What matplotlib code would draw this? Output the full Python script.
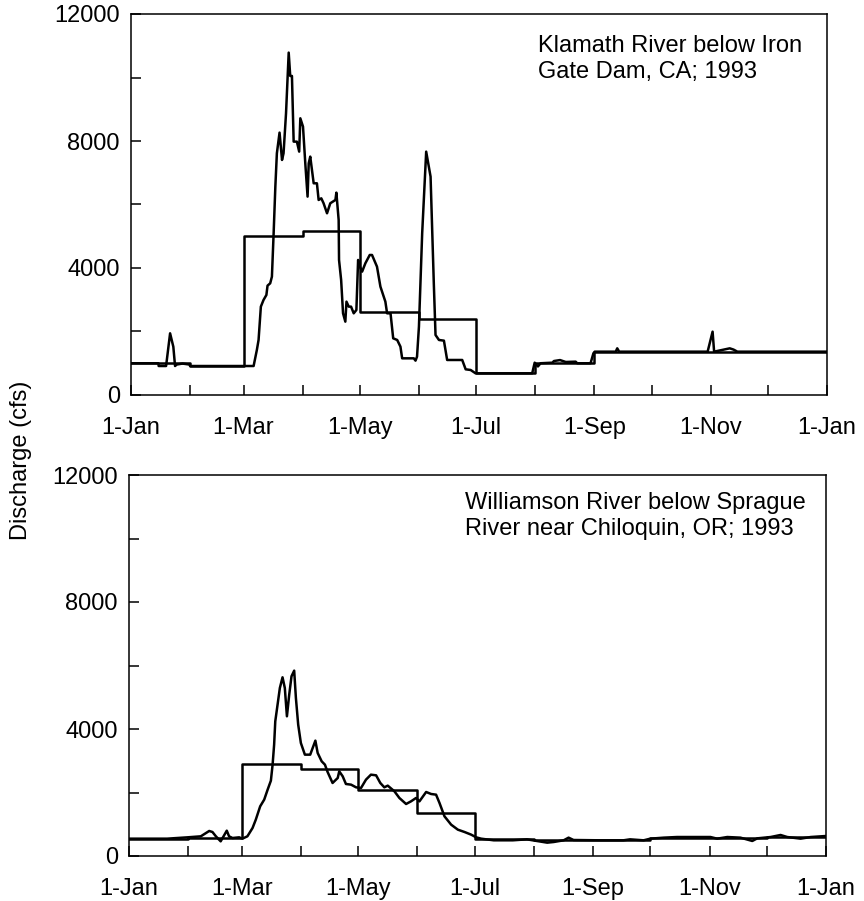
import matplotlib
matplotlib.use('Agg')
import matplotlib.pyplot as plt

plt.rcParams['font.family'] = ['Liberation Sans', 'DejaVu Sans']

# day of year (0 = 1-Jan) for each month start, last entry = next 1-Jan
month_starts = [0, 31, 59, 90, 120, 151, 181, 212, 243, 273, 304, 334, 365]
label_days = [0, 59, 120, 181, 243, 304, 365]
label_text = ['1-Jan', '1-Mar', '1-May', '1-Jul', '1-Sep', '1-Nov', '1-Jan']
y_major = [0, 4000, 8000, 12000]
y_minor = [2000, 6000, 10000]

# Klamath River below Iron Gate Dam - daily flow
klamath_day = [0, 14.4, 14.5, 18.4, 20.5, 22.2, 23.1, 24, 27, 30.6, 31, 64.3,
               66, 66.9, 68.1, 69.5, 71, 71.6, 73, 73.9, 74.8, 75.7, 76.5, 77.9,
               79.2, 80, 81.3, 82.7, 83.5, 84.4, 85.3, 87, 88.2, 88.8, 90.2,
               91.4, 92.6, 93.2, 94, 95.8, 97.5, 98.4, 99.8, 101, 102.8, 104.5,
               107.2, 107.7, 108.9, 109.1, 110.2, 111.2, 112.4, 113, 114.2,
               115.4, 116.8, 118.2, 119.1, 120, 121.2, 122.9, 125.2, 126.4, 129,
               130.8, 133.4, 134.3, 136.1, 137.5, 139.6, 141.3, 142.2, 148.3,
               149.2, 150, 151, 152.7, 154.8, 157.1, 158.8, 159.7, 161.5, 164.1,
               165.8, 173.7, 175.5, 178.1, 180.7, 210.4, 211.7, 213.4, 214.8,
               221, 221.8, 225, 228, 233.2, 234, 241, 242.5, 243.2, 254.2, 255,
               256, 302.4, 305, 305.8, 314, 316, 318, 365]
klamath_cfs = [1000, 1000, 913, 913, 1943, 1520, 913, 960, 990, 960, 913, 913,
               1418, 1733, 2783, 2993, 3150, 3444, 3518, 3728, 5093, 6563, 7613,
               8264, 7403, 7613, 8873, 10784, 10049, 10049, 7980, 7980, 7665,
               8715, 8453, 7298, 6248, 7298, 7508, 6668, 6668, 6143, 6195, 6038,
               5723, 6038, 6143, 6374, 5513, 4253, 3623, 2573, 2310, 2940, 2783,
               2783, 2573, 2678, 4253, 4043, 3885, 4148, 4410, 4410, 4043, 3413,
               2940, 2573, 2573, 1785, 1733, 1523, 1155, 1155, 1082, 1208, 2153,
               5093, 7665, 6878, 3518, 1890, 1733, 1712, 1103, 1103, 809, 788,
               683, 683, 1018, 900, 1000, 1018, 1070, 1100, 1040, 1050, 1000,
               1000, 1313, 1365, 1365, 1470, 1365, 1365, 1995, 1365, 1470, 1430,
               1365, 1365]
klamath_monthly = [1000, 913, 5020, 5180, 2625, 2395, 683, 1018, 1365, 1365, 1365, 1365]

# Williamson River below Sprague River near Chiloquin
williamson_day = [0, 20, 30.6, 37.6, 42, 43.7, 45.5, 48, 49.8, 51.2, 52.4, 54.2,
                  57.7, 59.4, 62, 64.7, 66.4, 68.7, 70.8, 72.6, 74.3, 75.2, 76,
                  76.6, 77.8, 79, 80.4, 81.6, 82.7, 83.9, 85.1, 86.5, 87.4, 88.6,
                  90, 92.1, 94.9, 97.6, 98.8, 100.9, 102.6, 104, 106.6, 109.3,
                  110.1, 111.9, 113.6, 116.3, 118.9, 121.5, 124.1, 126.7, 129.4,
                  131.6, 133.7, 135.5, 139, 141.6, 145.1, 147.7, 150.3, 152.1,
                  155.6, 158.2, 160.8, 162.6, 165.2, 168.7, 172.2, 175.7, 179.2,
                  181.8, 184.4, 191, 201, 208.4, 211, 219, 222.4, 227.6, 230.2,
                  232.8, 246.9, 258.9, 262.4, 269.5, 273, 280, 287, 304.5, 308,
                  313.3, 320.2, 326.4, 329, 336, 341.2, 344.7, 351.7, 357, 365]
williamson_cfs = [546, 546, 588, 620, 788, 756, 620, 462, 650, 798, 620, 567,
                  588, 546, 620, 882, 1145, 1565, 1775, 2090, 2373, 2877, 3507,
                  4242, 4767, 5292, 5628, 5292, 4400, 5082, 5660, 5838, 4977, 4137,
                  3560, 3192, 3192, 3633, 3245, 2982, 2877, 2646, 2300, 2457, 2667,
                  2510, 2268, 2247, 2163, 2142, 2405, 2562, 2541, 2300, 2163, 2216,
                  2037, 1827, 1638, 1722, 1827, 1722, 2016, 1953, 1932, 1670, 1250,
                  987, 830, 756, 672, 588, 546, 494, 494, 525, 498, 420, 441, 494,
                  578, 504, 494, 494, 525, 494, 546, 578, 598, 598, 546, 598, 578,
                  473, 556, 598, 662, 598, 546, 598, 630]
williamson_monthly = [540, 570, 2910, 2750, 2090, 1355, 540, 500, 490, 560, 580, 600]

panels = [
    (klamath_day, klamath_cfs, klamath_monthly,
     'Klamath River below Iron\nGate Dam, CA; 1993',
     [131 / 864, 1 - 395 / 901, 696 / 864, 381 / 901], 0.585, 0.945),
    (williamson_day, williamson_cfs, williamson_monthly,
     'Williamson River below Sprague\nRiver near Chiloquin, OR; 1993',
     [129 / 864, 1 - 856 / 901, 697 / 864, 381 / 901], 0.482, 0.955),
]

fig = plt.figure(figsize=(8.64, 9.01), dpi=100)

for day, cfs, monthly, title, rect, tx, ty in panels:
    ax = fig.add_axes(rect)
    ax.plot(day, cfs, color='black', lw=1.8)
    ax.plot(month_starts, monthly + [monthly[-1]], color='black', lw=1.8,
            drawstyle='steps-post')
    ax.set_xlim(0, 365)
    ax.set_ylim(0, 12000)
    ax.set_xticks(label_days)
    ax.set_xticklabels(label_text)
    ax.set_xticks([d for d in month_starts if d not in label_days], minor=True)
    ax.set_yticks(y_major)
    ax.set_yticks(y_minor, minor=True)
    ax.tick_params(which='both', direction='in', length=7, width=1.1,
                   labelsize=17)
    ax.tick_params(axis='x', which='major', pad=16)
    ax.tick_params(axis='y', which='major', pad=8)
    for s in ax.spines.values():
        s.set_linewidth(1.1)
    ax.text(tx, ty, title, transform=ax.transAxes, fontsize=17,
            ha='left', va='top', linespacing=1.25)

fig.text(0.024, 1 - 460 / 901, 'Discharge (cfs)', rotation=90,
         ha='center', va='center', fontsize=17)

fig.savefig('out.png', dpi=100)
